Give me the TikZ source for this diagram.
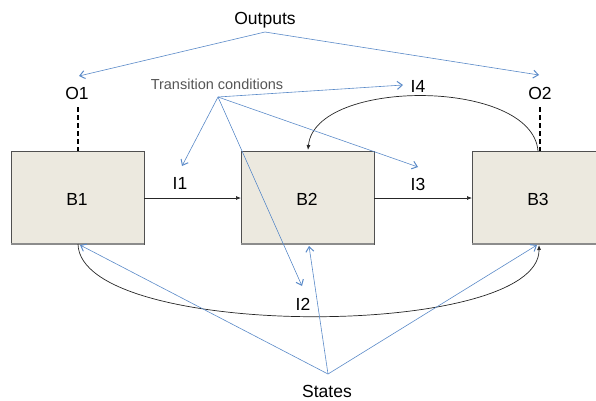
\documentclass[tikz,border=0pt]{standalone}
\usepackage{fontspec}
\setmainfont{Liberation Sans}
\usetikzlibrary{arrows.meta}
\definecolor{boxfill}{RGB}{236,233,223}
\definecolor{boxedge}{RGB}{80,80,80}
\definecolor{shadowedge}{RGB}{140,140,140}
\definecolor{bluearr}{RGB}{90,138,200}
\definecolor{tcgray}{RGB}{85,85,85}
\tikzset{
  blockbox/.style={fill=boxfill, draw=boxedge, line width=0.8bp},
  lbl/.style={font=\fontsize{17.5bp}{20bp}\selectfont, anchor=base, inner sep=0pt},
  smalllbl/.style={font=\fontsize{14.5bp}{17bp}\selectfont, text=tcgray, anchor=base, inner sep=0pt},
  bluelink/.style={draw=bluearr, line width=0.6bp, -{Straight Barb[length=5bp,width=8bp,line width=1bp]}},
  blacklink/.style={draw=black!85, line width=0.7bp, -{Latex[length=5bp,width=4bp]}},
  dashlink/.style={draw=black, line width=1.3bp, dash pattern=on 5bp off 3bp},
}
\begin{document}
\begin{tikzpicture}[x=1bp,y=-1bp]
\useasboundingbox (0,0) rectangle (596,400);
\clip (0,0) rectangle (596,400);
% blocks
\path[blockbox] (11,151) rectangle (144,244);
\path[blockbox] (241,151) rectangle (374,244);
\path[blockbox] (472,151) rectangle (605,244);
\draw[shadowedge, line width=1.6bp] (11,244) -- (144,244);
\draw[shadowedge, line width=1.6bp] (241,244) -- (374,244);
\draw[shadowedge, line width=1.6bp] (472,244) -- (605,244);
\node[lbl] (b1) at (77,205) {B1};
\node[lbl] (b2) at (307,205) {B2};
\node[lbl] (b3) at (538,205) {B3};
% named anchor points on blocks
\coordinate (b1r) at (144,198);
\coordinate (b2l) at (241,198);
\coordinate (b2r) at (374,198);
\coordinate (b3l) at (472,198);
\coordinate (b1top) at (78,151);
\coordinate (b3top) at (540,151);
\coordinate (b1bot) at (80,245);
\coordinate (b2bot) at (309,246);
\coordinate (b3bot) at (537,245);
\coordinate (b3arc) at (538,151);
\coordinate (b2arc) at (308,150);
\coordinate (b1arc) at (78,244);
\coordinate (b3arcb) at (539,245);
% labels
\node[lbl] (out) at (265,24) {Outputs};
\node[lbl] (o1) at (77,99) {O1};
\node[lbl] (o2) at (540,99) {O2};
\node[smalllbl] (tc) at (217,89) {Transition conditions};
\node[lbl] (i1) at (180,189) {I1};
\node[lbl] (i2) at (303,310) {I2};
\node[lbl] (i3) at (418,190) {I3};
\node[lbl] (i4) at (418,92) {I4};
\node[lbl] (st) at (327,397) {States};
% origin points and tips
\coordinate (outp) at (265,32);
\coordinate (tcp) at (218,97);
\coordinate (stp) at (328,374);
\coordinate (o1tip) at (79,76);
\coordinate (o2tip) at (539,75);
\coordinate (i1tip) at (182,166);
\coordinate (i2tip) at (302,286);
\coordinate (i3tip) at (418,167);
\coordinate (i4tip) at (403,85);
\coordinate (o1bot) at (78,107);
\coordinate (o2bot) at (540,107);
% dashed output links
\draw[dashlink] (o1bot) -- (b1top);
\draw[dashlink] (o2bot) -- (b3top);
% transitions between blocks
\draw[blacklink] (b1r) -- (b2l);
\draw[blacklink] (b2r) -- (b3l);
\draw[blacklink] (b3arc) .. controls (532,78) and (315,78) .. (b2arc);
\draw[blacklink] (b1arc) .. controls (80,340) and (540,340) .. (b3arcb);
% blue annotation arrows
\draw[bluelink] (outp) -- (o1tip);
\draw[bluelink] (outp) -- (o2tip);
\draw[bluelink] (tcp) -- (i1tip);
\draw[bluelink] (tcp) -- (i2tip);
\draw[bluelink] (tcp) -- (i3tip);
\draw[bluelink] (tcp) -- (i4tip);
\draw[bluelink] (stp) -- (b1bot);
\draw[bluelink] (stp) -- (b2bot);
\draw[bluelink] (stp) -- (b3bot);
\end{tikzpicture}
\end{document}
